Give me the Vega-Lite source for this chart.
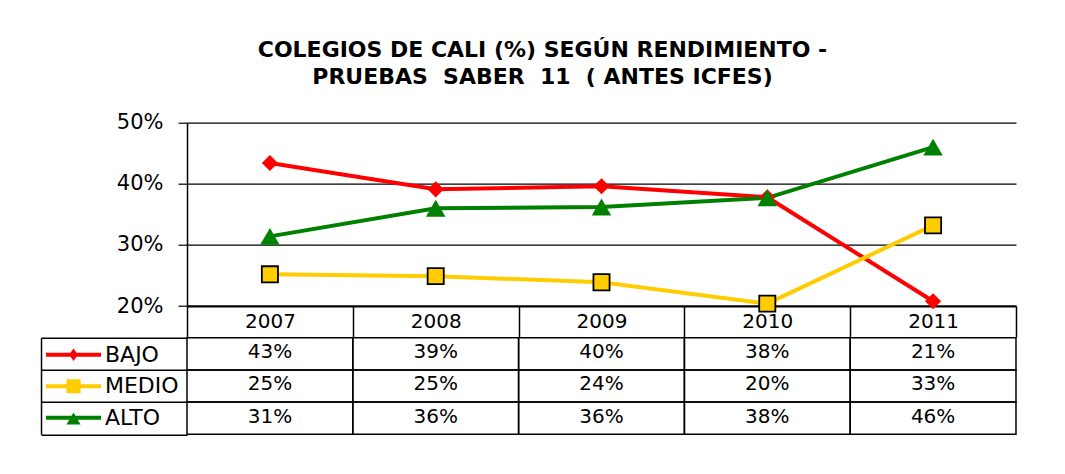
{
  "$schema": "https://vega.github.io/schema/vega-lite/v6.json",
  "padding": {"left": 40, "top": 38.7, "right": 5, "bottom": 5},
  "background": "white",
  "config": {"view": {"stroke": null}, "font": "DejaVu Sans"},
  "title": {
    "text": ["COLEGIOS DE CALI (%) SEGÚN RENDIMIENTO -", "PRUEBAS\u00a0\u00a0SABER\u00a0\u00a011\u00a0\u00a0( ANTES ICFES)"],
    "font": "DejaVu Sans", "fontSize": 22, "fontWeight": "bold", "color": "black",
    "lineHeight": 27, "anchor": "middle", "frame": "bounds", "offset": 23, "dx": 14
  },
  "datasets": {
    "rows": [
      {"year": 2007, "serie": "BAJO", "value": 0.434},
      {"year": 2008, "serie": "BAJO", "value": 0.391},
      {"year": 2009, "serie": "BAJO", "value": 0.396},
      {"year": 2010, "serie": "BAJO", "value": 0.378},
      {"year": 2011, "serie": "BAJO", "value": 0.208},
      {"year": 2007, "serie": "MEDIO", "value": 0.252},
      {"year": 2008, "serie": "MEDIO", "value": 0.249},
      {"year": 2009, "serie": "MEDIO", "value": 0.239},
      {"year": 2010, "serie": "MEDIO", "value": 0.204},
      {"year": 2011, "serie": "MEDIO", "value": 0.332},
      {"year": 2007, "serie": "ALTO", "value": 0.314},
      {"year": 2008, "serie": "ALTO", "value": 0.360},
      {"year": 2009, "serie": "ALTO", "value": 0.362},
      {"year": 2010, "serie": "ALTO", "value": 0.377},
      {"year": 2011, "serie": "ALTO", "value": 0.460}
    ]
  },
  "bounds": "flush",
  "spacing": 31,
  "vconcat": [
    {
      "width": 829,
      "height": 183.4,
      "data": {"name": "rows"},
      "encoding": {
        "x": {
          "field": "year", "type": "ordinal",
          "scale": {"type": "band", "paddingInner": 0, "paddingOuter": 0},
          "axis": {
            "title": null, "labelAngle": 0, "tickBand": "extent", "tickSize": 31,
            "tickColor": "black", "tickWidth": 1.5, "domainColor": "black", "domainWidth": 2,
            "labelFont": "DejaVu Sans", "labelFontSize": 20, "labelColor": "black",
            "labelBaseline": "middle", "labelPadding": -15.5, "grid": false
          }
        },
        "y": {
          "field": "value", "type": "quantitative",
          "scale": {"domain": [0.2, 0.5], "nice": false, "zero": false},
          "axis": {
            "title": null, "values": [0.2, 0.3, 0.4, 0.5], "format": ".0%",
            "grid": true, "gridColor": "black", "gridWidth": 1.2, "gridOpacity": 1,
            "domainColor": "black", "domainWidth": 1.5, "tickColor": "black",
            "tickSize": 9, "tickWidth": 1.2, "labelFont": "DejaVu Sans",
            "labelFontSize": 21, "labelColor": "black", "labelPadding": 15
          }
        },
        "color": {
          "field": "serie", "type": "nominal",
          "scale": {"domain": ["BAJO", "MEDIO", "ALTO"], "range": ["#FF0000", "#FFCC00", "#008000"]},
          "legend": {
            "orient": "none", "legendX": -128.5, "legendY": 217, "title": null,
            "padding": 0, "symbolSize": 900, "rowPadding": 5.5, "labelOffset": 16.5,
            "labelFont": "DejaVu Sans", "labelFontSize": 22, "labelColor": "black",
            "encode": {
              "symbols": {
                "update": {
                  "shape": {"signal": "datum.value === 'BAJO' ? 'M-1.833,-0.133H1.833V0.133H-1.833Z M0,-0.42L0.3,0L0,0.42L-0.3,0Z' : datum.value === 'MEDIO' ? 'M-1.833,-0.133H1.833V0.133H-1.833Z M-0.47,-0.47H0.47V0.47H-0.47Z' : 'M-1.833,-0.133H1.833V0.133H-1.833Z M0,-0.35L0.47,0.45H-0.47Z'"},
                  "fill": {"signal": "datum.value === 'BAJO' ? '#FF0000' : datum.value === 'MEDIO' ? '#FFCC00' : '#008000'"},
                  "stroke": {"value": "transparent"},
                  "strokeWidth": {"value": 0},
                  "size": {"value": 900},
                  "opacity": {"value": 1}
                }
              }
            }
          }
        }
      },
      "layer": [
        {"mark": {"type": "line", "strokeWidth": 4}},
        {
          "mark": {"type": "point", "filled": true, "opacity": 1, "strokeWidth": 1.8},
          "encoding": {
            "shape": {
              "condition": [
                {"test": "datum.serie === 'BAJO'", "value": "diamond"},
                {"test": "datum.serie === 'MEDIO'", "value": "square"}
              ],
              "value": "triangle-up"
            },
            "stroke": {"condition": {"test": "datum.serie === 'MEDIO'", "value": "black"}, "value": null},
            "size": {"condition": {"test": "datum.serie === 'ALTO'", "value": 380}, "value": 260}
          }
        }
      ]
    },
    {
      "width": 829,
      "height": 96.6,
      "data": {"name": "rows"},
      "encoding": {
        "x": {
          "field": "year", "type": "ordinal",
          "scale": {"type": "band", "paddingInner": 0, "paddingOuter": 0},
          "axis": null
        },
        "y": {
          "field": "serie", "type": "nominal", "sort": ["BAJO", "MEDIO", "ALTO"],
          "scale": {"type": "band", "paddingInner": 0, "paddingOuter": 0},
          "axis": {
            "title": null, "offset": 146, "tickSize": -146, "tickBand": "extent",
            "labels": false, "grid": false, "domainColor": "black", "domainWidth": 1.5,
            "tickColor": "black", "tickWidth": 1.5
          }
        }
      },
      "layer": [
        {"mark": {"type": "rect", "fill": "transparent", "stroke": "black", "strokeWidth": 1.5}},
        {
          "mark": {"type": "text", "font": "DejaVu Sans", "fontSize": 20, "color": "black", "dy": -1.5},
          "encoding": {"text": {"field": "value", "type": "quantitative", "format": ".0%"}}
        }
      ]
    }
  ]
}
